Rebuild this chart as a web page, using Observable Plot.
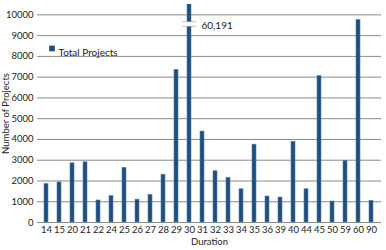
<!DOCTYPE html>
<html><head><meta charset="utf-8">
<script src="https://cdn.jsdelivr.net/npm/d3@7"></script>
<script src="https://cdn.jsdelivr.net/npm/@observablehq/plot@0.6"></script>
<style>body{margin:0;background:#fff;font-family:Lato,sans-serif}</style>
</head><body><div id="chart"></div>
<script>
const durations = ["14","15","20","21","22","24","25","26","27","28","29","30","31","32","33","34","35","36","39","40","44","45","50","59","60","90"];
const totalProjects = [1850,1930,2850,2900,1060,1270,2630,1100,1330,2300,7350,60191,4380,2470,2150,1600,3750,1250,1200,3890,1600,7050,1010,2970,9750,1040];
const yTicks = [0,1000,2000,3000,4000,5000,6000,7000,8000,9000,10000];
const seriesName = "Total Projects";
const breakCategory = ["30"];
const breakLabel = ["60,191"];
const breakValue = 9560;

const data = durations.map((d,i)=>({d, v: totalProjects[i]}));
const brk = breakCategory.map((d,i)=>({d, label: breakLabel[i]}));
const color = "#214f7d";

const chart = Plot.plot({
  width: 386, height: 250,
  marginLeft: 37, marginRight: 5, marginTop: 4, marginBottom: 28,
  style: {fontFamily: "Lato, sans-serif", fontSize: "9.5px", color: "#222", background: "#fff"},
  x: {type: "band", domain: durations, paddingInner: 0.68, paddingOuter: 0.34},
  y: {domain: [0, 10500]},
  marks: [
    Plot.ruleY(yTicks, {stroke: "#8a8a8a", strokeWidth: 1}),
    Plot.axisY({ticks: yTicks, tickSize: 0, tickPadding: 4, tickFormat: d=>String(d), label: "Number of Projects", labelAnchor: "center", labelArrow: "none", labelOffset: 35, fontSize: 9.5}),
    Plot.axisX({tickSize: 0, tickPadding: 4, fontSize: 9.5, label: null}),
    Plot.text(["Duration"], {frameAnchor: "bottom", dy: 22, text: d=>d, fontSize: 9.5, fill: "#222"}),
    Plot.barY(data, {x: "d", y: "v", fill: color, stroke: "#4f7fae", strokeWidth: 0.6, clip: true}),
    Plot.tickY(brk, {x: "d", y: () => breakValue, stroke: "#fff", strokeWidth: 4, insetLeft: -5, insetRight: -5}),
    Plot.tickY(brk, {x: "d", y: () => breakValue, stroke: "#aaa", strokeWidth: 0.7, dy: -2.3, insetLeft: -5, insetRight: -5}),
    Plot.tickY(brk, {x: "d", y: () => breakValue, stroke: "#aaa", strokeWidth: 0.7, dy: 2.3, insetLeft: -5, insetRight: -5}),
    Plot.text(brk, {x: "d", y: () => breakValue, text: "label", textAnchor: "start", dx: 12, dy: 2, fontSize: 10, fill: "#222"}),
    Plot.dot([seriesName], {frameAnchor: "top-left", dx: 14.5, dy: 44, symbol: "square", r: 3.2, fill: color, stroke: "none"}),
    Plot.text([seriesName], {frameAnchor: "top-left", dx: 21, dy: 44, text: d=>d, textAnchor: "start", fontSize: 10, fill: "#222"})
  ]
});
document.getElementById("chart").appendChild(chart);
</script></body></html>
